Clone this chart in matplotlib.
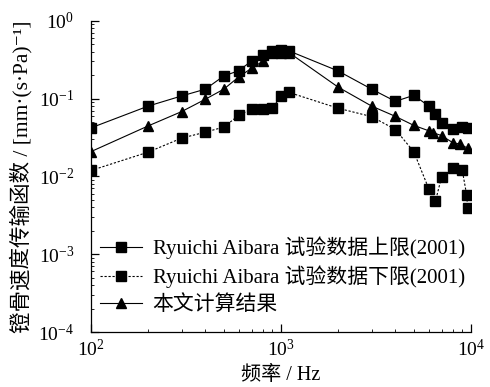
import matplotlib
matplotlib.use("Agg")
import matplotlib.pyplot as plt
from matplotlib.ticker import LogLocator, NullFormatter, FixedLocator

plt.rcParams['font.family'] = ['Liberation Serif', 'Noto Sans CJK SC', 'DejaVu Sans']
plt.rcParams['mathtext.fontset'] = 'custom'
plt.rcParams['mathtext.rm'] = 'Liberation Serif'
plt.rcParams['mathtext.it'] = 'Liberation Serif:italic'

# Frequency (Hz) and stapes velocity transfer function values
freq_upper = [100, 200, 300, 400, 500, 600, 700, 800, 900, 1000, 1100,
              2000, 3000, 4000, 5000, 6000, 6500, 7000, 8000, 9000, 9600]
upper = [0.042, 0.080, 0.108, 0.132, 0.195, 0.228, 0.304, 0.36, 0.41, 0.42, 0.41,
         0.226, 0.132, 0.092, 0.110, 0.080, 0.063, 0.049, 0.0405, 0.0436, 0.042]

freq_lower = [100, 200, 300, 400, 500, 600, 700, 800, 900, 1000, 1100,
              2000, 3000, 4000, 5000, 6000, 6500, 7000, 8000, 9000, 9500, 9600]
lower = [0.0119, 0.0205, 0.031, 0.037, 0.043, 0.061, 0.073, 0.073, 0.075, 0.107, 0.12,
         0.075, 0.0586, 0.040, 0.0207, 0.0069, 0.0048, 0.0098, 0.0127, 0.0119, 0.0057, 0.0039]

freq_calc = [100, 200, 300, 400, 500, 600, 700, 800, 900, 1000, 1100,
             2000, 3000, 4000, 5000, 6000, 6300, 7000, 8000, 8800, 9600]
calc = [0.0208, 0.0445, 0.068, 0.098, 0.132, 0.19, 0.245, 0.30, 0.385, 0.39, 0.39,
        0.14, 0.080, 0.059, 0.0452, 0.0385, 0.0365, 0.0334, 0.0272, 0.0259, 0.023]

labels = ['Ryuichi Aibara 试验数据上限(2001)',
          'Ryuichi Aibara 试验数据下限(2001)',
          '本文计算结果']

fig = plt.figure(figsize=(4.9, 3.87), dpi=100)
ax = fig.add_axes([0.1857, 0.142, 0.7755, 0.8045])

ax.plot(freq_upper, upper, '-', color='black', lw=0.8, marker='s', ms=6.5,
        label=labels[0])
ax.plot(freq_lower, lower, color='black', lw=0.8, ls=(0, (2, 1.6)), marker='s', ms=6.5,
        label=labels[1])
ax.plot(freq_calc, calc, '-', color='black', lw=0.8, marker='^', ms=7,
        label=labels[2])

ax.set_xscale('log')
ax.set_yscale('log')
ax.set_xlim(100, 10000)
ax.set_ylim(1e-4, 1)

ax.spines['top'].set_visible(False)
ax.spines['right'].set_visible(False)
for s in ('left', 'bottom'):
    ax.spines[s].set_linewidth(0.9)

ax.xaxis.set_major_locator(FixedLocator([1e2, 1e3, 1e4]))
ax.yaxis.set_major_locator(FixedLocator([1e-4, 1e-3, 1e-2, 1e-1, 1e0]))
ax.set_xticklabels(['$10^{2}$', '$10^{3}$', '$10^{4}$'])
ax.set_yticklabels(['$10^{-4}$', '$10^{-3}$', '$10^{-2}$', '$10^{-1}$', '$10^{0}$'])
ax.xaxis.set_minor_locator(LogLocator(base=10, subs=range(2, 10), numticks=20))
ax.yaxis.set_minor_locator(LogLocator(base=10, subs=range(2, 10), numticks=20))
ax.xaxis.set_minor_formatter(NullFormatter())
ax.yaxis.set_minor_formatter(NullFormatter())

ax.tick_params(which='major', direction='in', length=6, width=0.9, labelsize=14)
ax.tick_params(which='minor', direction='in', length=2.5, width=0.6)
ax.tick_params(axis='y', which='major', pad=12)
ax.tick_params(axis='x', which='major', pad=5)

ax.set_xlabel('频率 / Hz', fontsize=14.5, labelpad=4)
ax.set_ylabel('镫骨速度传输函数 / [mm·(s·Pa)⁻¹]', fontsize=15.5, labelpad=4)

ax.legend(loc='lower left', bbox_to_anchor=(0.025, 0.055), frameon=False,
          fontsize=15, handlelength=2.0, handletextpad=0.5, labelspacing=0.32,
          borderaxespad=0, borderpad=0)

fig.savefig('out.png', dpi=100)
